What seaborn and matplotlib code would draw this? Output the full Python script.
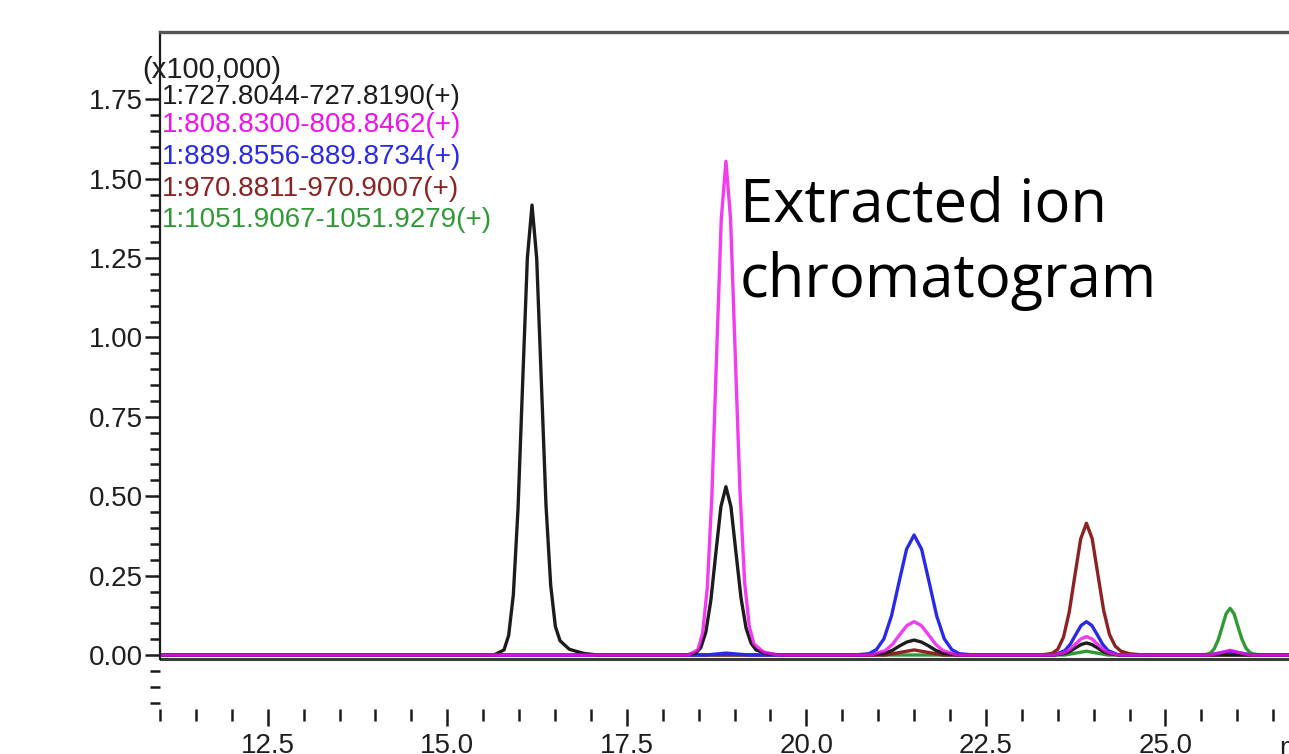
import numpy as np
import pandas as pd
import seaborn as sns
import matplotlib.pyplot as plt
from matplotlib.ticker import FixedLocator, FormatStrFormatter

# extracted ion traces, retention time (min) vs intensity (x100,000)
ions = ['1:727.8044-727.8190(+)', '1:808.8300-808.8462(+)', '1:889.8556-889.8734(+)',
        '1:970.8811-970.9007(+)', '1:1051.9067-1051.9279(+)']

t_727 = [11.0, 15.65, 15.79, 15.855, 15.92, 15.985, 16.05, 16.115, 16.18, 16.245, 16.31, 16.375, 16.44,
         16.505, 16.57, 16.7, 16.9, 17.1,
         18.32, 18.46, 18.53, 18.60, 18.67, 18.74, 18.81, 18.88, 18.95, 19.02, 19.09, 19.16, 19.23, 19.30,
         19.45, 19.65,
         20.9, 21.1, 21.2, 21.3, 21.4, 21.5, 21.6, 21.7, 21.8, 21.9, 22.1,
         23.45, 23.6, 23.675, 23.75, 23.825, 23.9, 23.975, 24.05, 24.125, 24.2, 24.35, 27.5]
i_727 = [0, 0, 0.016, 0.062, 0.19, 0.46, 0.86, 1.25, 1.417, 1.25, 0.86, 0.47, 0.22,
         0.09, 0.045, 0.018, 0.005, 0,
         0, 0.006, 0.023, 0.072, 0.172, 0.322, 0.467, 0.53, 0.467, 0.322, 0.18, 0.085, 0.037, 0.016,
         0.004, 0,
         0, 0.006, 0.015, 0.029, 0.041, 0.047, 0.041, 0.029, 0.015, 0.006, 0,
         0, 0.005, 0.012, 0.023, 0.033, 0.038, 0.033, 0.023, 0.012, 0.005, 0, 0]

t_808 = [11.0, 18.36, 18.49, 18.555, 18.62, 18.685, 18.75, 18.815, 18.88, 18.945, 19.01, 19.075, 19.14,
         19.205, 19.27, 19.4, 19.6,
         20.9, 21.1, 21.2, 21.3, 21.4, 21.5, 21.6, 21.7, 21.8, 21.9, 22.1,
         23.45, 23.6, 23.675, 23.75, 23.825, 23.9, 23.975, 24.05, 24.125, 24.2, 24.35,
         25.6, 25.75, 25.9, 26.05, 26.2, 27.5]
i_808 = [0, 0, 0.017, 0.068, 0.21, 0.505, 0.944, 1.372, 1.555, 1.372, 0.944, 0.52, 0.23,
         0.09, 0.035, 0.01, 0,
         0, 0.014, 0.034, 0.064, 0.093, 0.105, 0.093, 0.064, 0.034, 0.014, 0,
         0, 0.008, 0.019, 0.035, 0.051, 0.058, 0.051, 0.035, 0.019, 0.008, 0,
         0, 0.006, 0.015, 0.006, 0, 0]

t_889 = [11.0, 18.6, 18.88, 19.2,
         20.66, 20.87, 20.975, 21.08, 21.185, 21.29, 21.395, 21.5, 21.605, 21.71, 21.815, 21.92, 22.025,
         22.13, 22.34,
         23.45, 23.6, 23.675, 23.75, 23.825, 23.9, 23.975, 24.05, 24.125, 24.2, 24.35,
         25.6, 25.9, 26.2, 27.5]
i_889 = [0, 0, 0.006, 0,
         0, 0.004, 0.017, 0.051, 0.123, 0.229, 0.333, 0.378, 0.333, 0.229, 0.123, 0.051, 0.017,
         0.004, 0,
         0, 0.014, 0.034, 0.064, 0.093, 0.105, 0.093, 0.064, 0.034, 0.014, 0,
         0, 0.012, 0, 0]

t_970 = [11.0, 21.1, 21.3, 21.5, 21.7, 21.9,
         23.26, 23.42, 23.5, 23.58, 23.66, 23.74, 23.82, 23.9, 23.98, 24.06, 24.14, 24.22, 24.3, 24.38,
         24.5, 24.7, 27.5]
i_970 = [0, 0, 0.008, 0.016, 0.008, 0,
         0, 0.005, 0.018, 0.056, 0.135, 0.252, 0.366, 0.415, 0.366, 0.252, 0.14, 0.065, 0.028, 0.012,
         0.004, 0, 0]

t_1051 = [11.0, 23.6, 23.9, 24.2,
          25.46, 25.57, 25.625, 25.68, 25.735, 25.79, 25.845, 25.9, 25.955, 26.01, 26.065, 26.12, 26.175,
          26.23, 26.34, 27.5]
i_1051 = [0, 0, 0.012, 0,
          0, 0.002, 0.006, 0.02, 0.048, 0.089, 0.13, 0.147, 0.13, 0.089, 0.05, 0.022, 0.008,
          0.003, 0, 0]

x_major = [12.5, 15.0, 17.5, 20.0, 22.5, 25.0]
y_major = [0.0, 0.25, 0.5, 0.75, 1.0, 1.25, 1.5, 1.75]

colors = ['#1c1c1c', '#ee11ee', '#2a2ae6', '#8c2222', '#2f9a35']
palette = dict(zip(ions, colors))

frames = []
for ion, t, v in zip(ions, [t_727, t_808, t_889, t_970, t_1051],
                     [i_727, i_808, i_889, i_970, i_1051]):
    frames.append(pd.DataFrame({'time': t, 'intensity': v, 'ion': ion}))
df = pd.concat(frames, ignore_index=True)

sns.set_style('white')
plt.rcParams['font.family'] = ['Liberation Sans', 'DejaVu Sans']

W, H = 1289, 754
fig = plt.figure(figsize=(W / 100, H / 100), dpi=100)
ax = fig.add_axes([160 / W, 45 / H, 1185 / W, 677 / H])

draw_order = [ions[4], ions[3], ions[2], ions[0], ions[1]]
sns.lineplot(data=df, x='time', y='intensity', hue='ion', hue_order=draw_order,
             palette=palette, estimator=None, sort=True, lw=2.4, legend=False, ax=ax)
ax.lines[-1].set_alpha(0.82)
ax.axhline(-0.013, color='#3a3a3a', lw=2.2, zorder=1)

ax.set_xlim(11.0, 27.5)
ax.set_ylim(-0.170, 1.962)
ax.set_xlabel('')
ax.set_ylabel('')

ax.xaxis.set_major_locator(FixedLocator(x_major))
ax.xaxis.set_minor_locator(FixedLocator(np.arange(11.0, 27.6, 0.5)))
ax.xaxis.set_major_formatter(FormatStrFormatter('%.1f'))
ax.yaxis.set_major_locator(FixedLocator(y_major))
ax.yaxis.set_minor_locator(FixedLocator(np.arange(-0.15, 1.76, 0.05)))
ax.yaxis.set_major_formatter(FormatStrFormatter('%.2f'))

ax.tick_params(axis='both', which='both', direction='out', color='#1a1a1a', labelcolor='#1e1e1e',
               labelsize=20, width=1.8, bottom=True, left=True, top=False, right=False)
ax.tick_params(axis='y', which='major', length=11, pad=1)
ax.tick_params(axis='y', which='minor', length=7)
ax.tick_params(axis='x', which='major', length=12, pad=5)
ax.tick_params(axis='x', which='minor', length=8.5)

for side in ['right', 'bottom']:
    ax.spines[side].set_visible(False)
ax.spines['left'].set_bounds(-0.013, 1.962)
ax.spines['left'].set_color('#1a1a1a')
ax.spines['left'].set_linewidth(1.6)
ax.spines['top'].set_color('#555555')
ax.spines['top'].set_linewidth(2.4)

fig.text(142 / W, 1 - 70 / H, '(x100,000)', fontsize=21, color='#1e1e1e', va='center', ha='left')
label_y = [97, 125, 157, 189, 220]
for ion, yp in zip(ions, label_y):
    fig.text(162 / W, 1 - yp / H, ion, fontsize=20, color=palette[ion], va='center', ha='left')

fig.text(1279 / W, 1 - 736 / H, 'min', fontsize=20, color='#1e1e1e', va='top', ha='left')

fig.text(740 / W, 1 - 176 / H, 'Extracted ion\nchromatogram', fontsize=43, color='black',
         va='top', ha='left', linespacing=1.33, family=['Open Sans', 'DejaVu Sans'])

plt.savefig('out.png', dpi=100)
